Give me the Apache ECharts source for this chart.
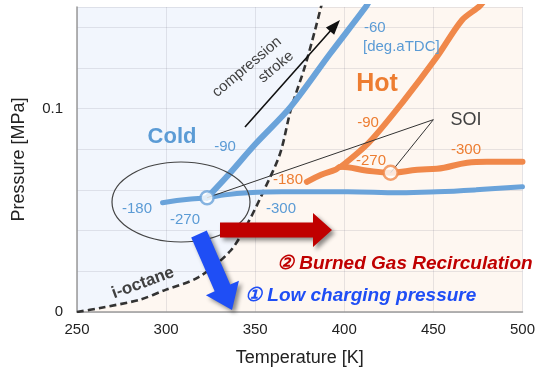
<!DOCTYPE html>
<html><head><meta charset="utf-8">
<script src="https://cdn.jsdelivr.net/npm/echarts@6/dist/echarts.min.js"></script>
<style>html,body{margin:0;padding:0;background:#fff}#c{width:538px;height:372px}</style>
</head><body><div id="c"></div>
<script>
// ---- data (Temperature [K], Pressure [MPa]) ----
const xRange = [250, 500];
const yRange = [0, 0.15];
const yLabelValues = [0, 0.1];
const iOctane = [[250,0],[263,0.002],[285,0.006],[300,0.011],[318,0.017],[336,0.030],[346,0.044],[355,0.060],[364,0.078],[370,0.0995],[378,0.121],[384,0.140],[387.5,0.152]];
const coldIntake = [[298,0.0537],[306,0.0548],[314,0.0556],[323,0.0562],[333,0.0576],[346,0.0586],[365,0.0591],[402,0.0591],[431,0.0586],[452,0.0591],[474,0.0601],[500,0.0616]];
const coldCompression = [[323,0.0562],[334,0.0665],[350,0.0825],[370,0.1010],[392,0.1270],[412,0.1500],[414,0.153]];
const hotIntake = [[379,0.0640],[387,0.0675],[395,0.0700],[398,0.0714],[413,0.0695],[426,0.0685],[441,0.0700],[452,0.0704],[469,0.0734],[480,0.0739],[500,0.0739]];
const hotCompression = [[398,0.0714],[414,0.0835],[433,0.1035],[452,0.1255],[466,0.1435],[476,0.1505],[480,0.155]];
const soiCold = [323,0.0562];
const soiHot = [426,0.0685];
const soiLabelPoint = [450,0.0946];

const BLUE = '#6aa3da', ORANGE = '#f0884a';
const FONT = 'Arial, "Liberation Sans", sans-serif';

function arrowPts(sx,sy,tx,ty,sw,hl,hw){
  const dx=tx-sx, dy=ty-sy, L=Math.hypot(dx,dy), ux=dx/L, uy=dy/L, nx=-uy, ny=ux;
  const bx=tx-ux*hl, by=ty-uy*hl;
  return [[sx+nx*sw/2,sy+ny*sw/2],[bx+nx*sw/2,by+ny*sw/2],[bx+nx*hw/2,by+ny*hw/2],[tx,ty],
          [bx-nx*hw/2,by-ny*hw/2],[bx-nx*sw/2,by-ny*sw/2],[sx-nx*sw/2,sy-ny*sw/2]];
}
function txt(x,y,text,size,color,opts){
  opts = opts||{};
  return {type:'text', x:x, y:y, z:20, rotation:opts.rot||0,
    style:Object.assign({text:text, fill:color, fontSize:size, fontFamily:FONT,
      fontWeight:opts.bold?'bold':'normal', fontStyle:opts.italic?'italic':'normal',
      align:opts.align||'center', verticalAlign:'middle'}, opts.style||{})};
}

const chart = echarts.init(document.getElementById('c'));
const option = {
  animation:false,
  grid:{left:77, right:12, top:7, bottom:60},
  xAxis:{type:'value', min:xRange[0], max:xRange[1], interval:50,
    name:'Temperature [K]', nameLocation:'middle', nameGap:37,
    nameTextStyle:{fontSize:18, color:'#222', fontFamily:FONT},
    axisLine:{lineStyle:{color:'#9a9a9a', width:1.5}}, axisTick:{show:false},
    axisLabel:{fontSize:15, color:'#222', margin:10, fontFamily:FONT},
    splitLine:{show:true, lineStyle:{color:'rgba(110,110,130,0.16)', width:1}}},
  yAxis:{type:'value', min:yRange[0], max:yRange[1], interval:0.02,
    name:'Pressure [MPa]', nameLocation:'middle', nameGap:49,
    nameTextStyle:{fontSize:18, color:'#222', fontFamily:FONT},
    axisLine:{show:true, lineStyle:{color:'#9a9a9a', width:1.5}}, axisTick:{show:false},
    axisLabel:{fontSize:15, color:'#222', margin:14, fontFamily:FONT,
      formatter:function(v){ for (const t of yLabelValues){ if (Math.abs(v-t)<1e-9) return String(t);} return ''; }},
    splitLine:{show:true, lineStyle:{color:'rgba(110,110,130,0.16)', width:1}}},
  series:[
    {type:'line', z:-2, silent:true, symbol:'none', data:[[xRange[0],yRange[1]],[xRange[1],yRange[1]]],
      lineStyle:{width:0}, areaStyle:{color:'#f2f6fd', opacity:1, origin:'start'}},
    {type:'line', z:-1, silent:true, symbol:'none', smooth:0.3, data:iOctane.concat([[xRange[1],0.152]]),
      lineStyle:{width:0}, areaStyle:{color:'#fef7f1', opacity:1, origin:'start'}},
    {type:'line', symbol:'none', smooth:0.3, data:iOctane, lineStyle:{color:'#333', width:2.6, type:[7,4]}},
    {type:'line', symbol:'none', smooth:0.4, data:coldIntake, lineStyle:{color:BLUE, width:5, cap:'round'}},
    {type:'line', symbol:'none', smooth:0.3, data:coldCompression, lineStyle:{color:BLUE, width:6, cap:'round'}},
    {type:'line', symbol:'none', smooth:0.4, data:hotIntake, lineStyle:{color:ORANGE, width:6, cap:'round'}},
    {type:'line', symbol:'none', smooth:0.3, data:hotCompression, lineStyle:{color:ORANGE, width:6, cap:'round'}},
    {type:'line', symbol:'none', data:[soiLabelPoint, soiCold], lineStyle:{color:'#333', width:1}, z:3},
    {type:'line', symbol:'none', data:[soiLabelPoint, soiHot], lineStyle:{color:'#333', width:1}, z:3},
    {type:'scatter', z:4, symbolSize:13, data:[soiCold], itemStyle:{color:'#fff', borderColor:BLUE, borderWidth:2.5}},
    {type:'scatter', z:4, symbolSize:14, data:[soiHot], itemStyle:{color:'#fff', borderColor:ORANGE, borderWidth:2.5}}
  ],
  graphic:[
    {type:'ellipse', z:15, shape:{cx:181, cy:202, rx:69, ry:40}, style:{fill:'none', stroke:'#444', lineWidth:1.2}},
    {type:'polygon', z:18, shape:{points:arrowPts(245,127,340,20,1.6,15,11)}, style:{fill:'#111'}},
    {type:'polygon', z:18, shape:{points:arrowPts(220,230,332,230,15,19,34)},
      style:{fill:'#c00000', shadowBlur:4, shadowColor:'rgba(0,0,0,0.45)', shadowOffsetX:3, shadowOffsetY:3}},
    {type:'polygon', z:18, shape:{points:arrowPts(199,234,232,310,17,24,36)},
      style:{fill:'#1f4ef5', shadowBlur:4, shadowColor:'rgba(0,0,0,0.45)', shadowOffsetX:3, shadowOffsetY:3}},
    txt(172,137,'Cold',22,'#5b9bd5',{bold:true}),
    txt(377,84,'Hot',25,'#ed7d31',{bold:true}),
    txt(225,147,'-90',15,'#5b9bd5'),
    txt(364,28,'-60',15,'#5b9bd5',{align:'left'}),
    txt(363,47,'[deg.aTDC]',15,'#5b9bd5',{align:'left'}),
    txt(137,209,'-180',15,'#5b9bd5'),
    txt(185,220,'-270',15,'#5b9bd5'),
    txt(281,209,'-300',15,'#5b9bd5'),
    txt(368,123,'-90',15,'#ed7d31'),
    txt(371,161,'-270',15,'#ed7d31'),
    txt(466,150,'-300',15,'#ed7d31'),
    txt(288,180,'-180',15,'#ed7d31'),
    txt(466,120,'SOI',18,'#404040'),
    txt(247,67,'compression',15,'#404040',{rot:40*Math.PI/180}),
    txt(276,67,'stroke',15,'#404040',{rot:40*Math.PI/180}),
    txt(143,283,'i-octane',17,'#404040',{bold:true, rot:20*Math.PI/180}),
    txt(277,264,'② Burned Gas Recirculation',19,'#c00000',{bold:true, italic:true, align:'left',
      style:{shadowBlur:3, shadowColor:'rgba(0,0,0,0.35)', shadowOffsetX:2, shadowOffsetY:2}}),
    txt(245,296,'① Low charging pressure',19,'#1f4ef5',{bold:true, italic:true, align:'left',
      style:{shadowBlur:3, shadowColor:'rgba(0,0,0,0.35)', shadowOffsetX:2, shadowOffsetY:2}})
  ]
};
chart.setOption(option);
</script></body></html>
